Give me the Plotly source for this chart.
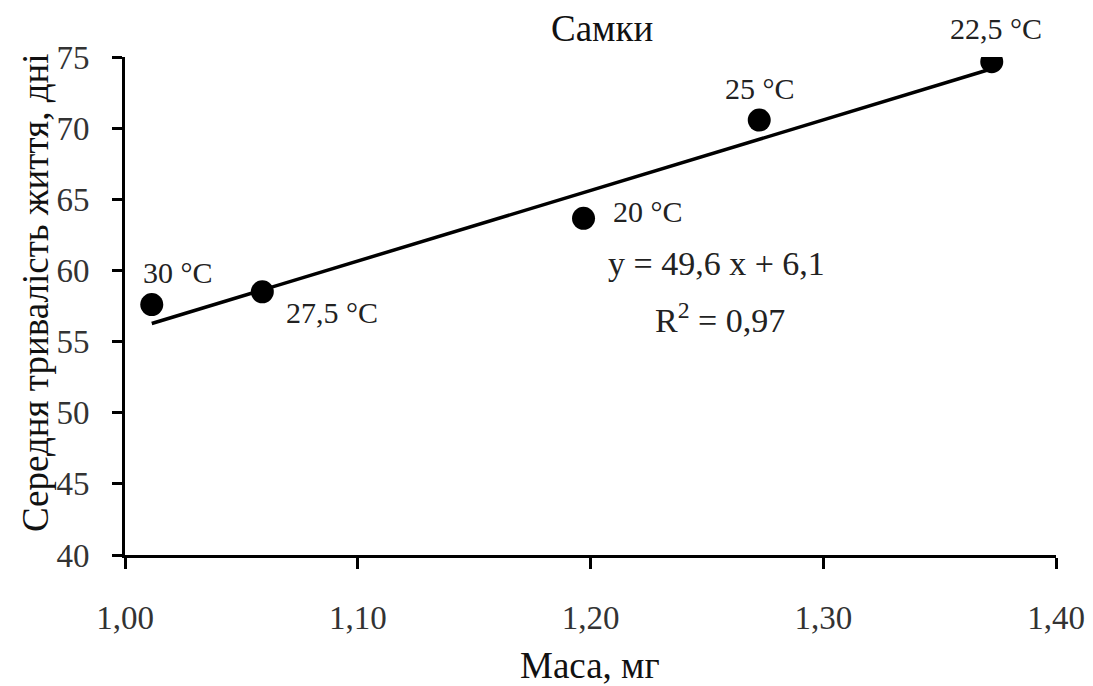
import plotly.graph_objects as go

# Data
mass = [1.0115, 1.059, 1.197, 1.2725, 1.3724]
lifespan = [57.6, 58.5, 63.66, 70.57, 74.67]
temp_labels = ["30 °C", "27,5 °C", "20 °C", "25 °C", "22,5 °C"]
label_dx = [26, 70, 64, 1, 4]
label_dy = [32, -21, 7, 32, 33]
slope, intercept = 49.6, 6.1
x_ticks = [1.0, 1.1, 1.2, 1.3, 1.4]
x_tick_text = ["1,00", "1,10", "1,20", "1,30", "1,40"]
y_ticks = [40, 45, 50, 55, 60, 65, 70, 75]

FONT = "Liberation Serif"
fig = go.Figure()

x_line = [min(mass), max(mass)]
y_line = [slope * v + intercept for v in x_line]
fig.add_trace(go.Scatter(x=x_line, y=y_line, mode="lines",
                         line=dict(color="black", width=3.5), showlegend=False))
fig.add_trace(go.Scatter(x=mass, y=lifespan, mode="markers",
                         marker=dict(color="black", size=23), showlegend=False))

annotations = []
for xv, yv, t, dx, dy in zip(mass, lifespan, temp_labels, label_dx, label_dy):
    annotations.append(dict(x=xv, y=yv, xref="x", yref="y", text=t, showarrow=False,
                            xshift=dx, yshift=dy, xanchor="center", yanchor="middle",
                            font=dict(family=FONT, size=30, color="#222")))
annotations.append(dict(x=1.2543, y=60.52, xref="x", yref="y",
                        text="y = 49,6 x + 6,1", showarrow=False,
                        xanchor="center", yanchor="middle",
                        font=dict(family=FONT, size=34, color="#222")))
annotations.append(dict(x=1.2556, y=56.66, xref="x", yref="y",
                        text="R<sup>2</sup> = 0,97", showarrow=False,
                        xanchor="center", yanchor="middle",
                        font=dict(family=FONT, size=34, color="#222")))
annotations.append(dict(x=0.4995, y=-0.221, xref="paper", yref="paper",
                        text="Маса, мг", showarrow=False,
                        xanchor="center", yanchor="middle",
                        font=dict(family=FONT, size=37, color="#111")))
annotations.append(dict(x=-0.0967, y=0.528, xref="paper", yref="paper",
                        text="Середня тривалість життя, дні", textangle=-90, showarrow=False,
                        xanchor="center", yanchor="middle",
                        font=dict(family=FONT, size=37, color="#111")))
annotations.append(dict(x=(602 - 125) / 931, y=(555 - 29) / 498, xref="paper", yref="paper",
                        text="Самки", showarrow=False, xanchor="center", yanchor="middle",
                        font=dict(family=FONT, size=37, color="#111")))

fig.update_layout(
    width=1093, height=686,
    margin=dict(l=125, r=37, t=57, b=131),
    paper_bgcolor="white", plot_bgcolor="white",
    annotations=annotations,
    xaxis=dict(range=[1.0, 1.4], tickvals=x_ticks, ticktext=x_tick_text,
               showgrid=False, zeroline=False, showline=True, linecolor="black", linewidth=3,
               ticks="outside", ticklen=11, tickwidth=3, tickcolor="black",
               ticklabelstandoff=20, automargin=False,
               tickfont=dict(family=FONT, size=33, color="#333")),
    yaxis=dict(range=[40, 75], tickvals=y_ticks,
               showgrid=False, zeroline=False, showline=True, linecolor="black", linewidth=3,
               ticks="outside", ticklen=10, tickwidth=3, tickcolor="black",
               ticklabelstandoff=16, automargin=False,
               tickfont=dict(family=FONT, size=33, color="#333")),
)

fig.write_html("out.html")
